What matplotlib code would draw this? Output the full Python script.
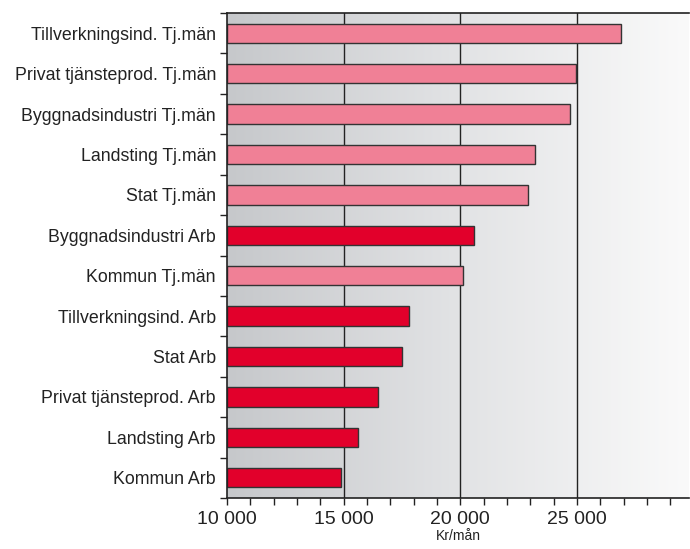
import matplotlib
matplotlib.use("Agg")
import matplotlib.pyplot as plt
from matplotlib.ticker import MultipleLocator, FuncFormatter
from matplotlib.colors import LinearSegmentedColormap
import numpy as np

plt.rcParams["font.family"] = ["Liberation Sans", "DejaVu Sans"]

# ── Data (top to bottom) ──────────────────────────────────────────────────────
categories = [
    "Tillverkningsind. Tj.män",
    "Privat tjänsteprod. Tj.män",
    "Byggnadsindustri Tj.män",
    "Landsting Tj.män",
    "Stat Tj.män",
    "Byggnadsindustri Arb",
    "Kommun Tj.män",
    "Tillverkningsind. Arb",
    "Stat Arb",
    "Privat tjänsteprod. Arb",
    "Landsting Arb",
    "Kommun Arb",
]
values = [26900, 24950, 24700, 23200, 22900, 20600, 20100, 17800, 17500, 16450, 15600, 14900]
groups = ["tj", "tj", "tj", "tj", "tj", "arb", "tj", "arb", "arb", "arb", "arb", "arb"]

COLORS = {"tj": "#F08096", "arb": "#E2002B"}
XMIN, XMAX = 10000, 29800

fig = plt.figure(figsize=(6.9, 5.49), dpi=100)
ax = fig.add_axes([227 / 690, 51 / 549, 462 / 690, 485 / 549])

n = len(categories)
y = np.arange(n)[::-1]

# gradient background
cmap = LinearSegmentedColormap.from_list("bg", ["#c6c8cb", "#e2e3e5", "#fafafa"])
grad = np.linspace(0, 1, 256).reshape(1, -1)
ax.imshow(grad, extent=[XMIN, XMAX, -0.5, n - 0.5], aspect="auto", cmap=cmap,
          zorder=0, interpolation="bicubic")

for gx in (15000, 20000, 25000):
    ax.axvline(gx, color="#222222", lw=1.0, zorder=1)

ax.barh(y, [v - XMIN for v in values], left=XMIN, height=0.48,
        color=[COLORS[g] for g in groups], edgecolor="#333333", linewidth=1.0, zorder=2)

ax.set_xlim(XMIN, XMAX)
ax.set_ylim(-0.5, n - 0.5)

ax.set_yticks(y)
ax.set_yticklabels(categories, fontsize=12.8, color="#222222")
ax.set_yticks(np.arange(n + 1) - 0.5, minor=True)
ax.tick_params(axis="y", which="major", length=0, pad=8)
ax.tick_params(axis="y", which="minor", length=5, width=1, color="#222222")

ax.xaxis.set_major_locator(MultipleLocator(5000))
ax.xaxis.set_minor_locator(MultipleLocator(1000))
ax.xaxis.set_major_formatter(FuncFormatter(lambda v, _: f"{int(v):,}".replace(",", " ")))
ax.set_xticks([10000, 15000, 20000, 25000])
ax.tick_params(axis="x", which="both", length=5, width=1, color="#222222",
               labelsize=14, labelcolor="#222222", pad=4)
ax.set_xlabel("Kr/mån", fontsize=10, color="#222222", labelpad=1)

for s in ("left", "bottom", "top"):
    ax.spines[s].set_color("#222222")
    ax.spines[s].set_linewidth(1.2)
ax.spines["right"].set_visible(False)

fig.savefig("out.png", dpi=100)
